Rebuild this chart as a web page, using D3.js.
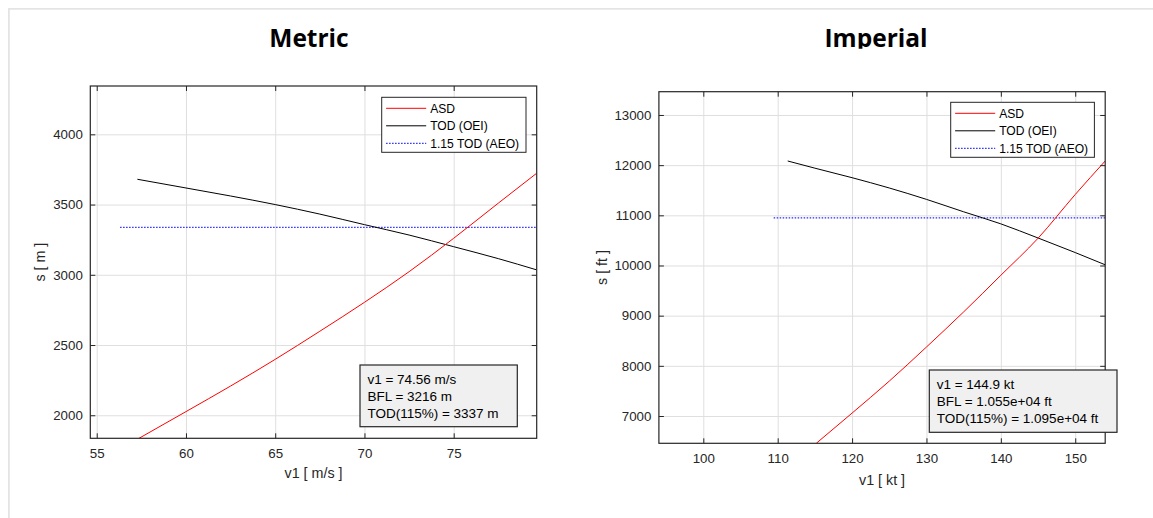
<!DOCTYPE html>
<html><head><meta charset="utf-8">
<script src="https://cdn.jsdelivr.net/npm/d3@7"></script>
<style>body{margin:0;background:#fff;overflow:hidden}</style>
</head><body><svg id="c" width="1153" height="518"></svg>
<script>
// ---------- Metric panel data ----------
const metricTodV1 = [57.28, 60, 62.5, 65, 67.5, 70, 72.5, 75, 77.5, 79.65];
const metricTod   = [3680, 3618, 3561, 3500, 3432, 3357, 3283, 3200, 3115, 3035];
const metricAsdV1 = [57.37, 60, 62.5, 65, 67.5, 70, 72.5, 75, 77.5, 79.65];
const metricAsd   = [1836, 2026, 2208, 2398, 2598, 2804, 3022, 3260, 3510, 3723];
const metricTod115V1 = [56.31, 79.65];
const metricTod115   = [3337, 3337];
const metricXTicks = [55, 60, 65, 70, 75];
const metricYTicks = [2000, 2500, 3000, 3500, 4000];
const metricInfo = ["v1 = 74.56 m/s", "BFL = 3216 m", "TOD(115%) = 3337 m"];

// ---------- Imperial panel data ----------
const imperialTodV1 = [111.35, 115, 120, 125, 130, 135, 140, 145, 150, 154.03];
const imperialTod   = [12083, 11940, 11750, 11545, 11318, 11070, 10830, 10548, 10258, 10014];
const imperialAsdV1 = [115.19, 120, 125, 130, 135, 140, 145, 150, 154.03];
const imperialAsd   = [6456, 7058, 7695, 8375, 9075, 9805, 10543, 11415, 12083];
const imperialTod115V1 = [109.46, 154.03];
const imperialTod115   = [10950, 10950];
const imperialXTicks = [100, 110, 120, 130, 140, 150];
const imperialYTicks = [7000, 8000, 9000, 10000, 11000, 12000, 13000];
const imperialInfo = ["v1 = 144.9 kt", "BFL = 1.055e+04 ft", "TOD(115%) = 1.095e+04 ft"];

const legendLabels = ["ASD", "TOD (OEI)", "1.15 TOD (AEO)"];
const titles = ["Metric", "Imperial"];
const xLabels = ["v1 [ m/s ]", "v1 [ kt ]"];
const yLabels = ["s [ m ]", "s [ ft ]"];

const svg = d3.select("#c");
svg.append("rect").attr("width", 1153).attr("height", 518).attr("fill", "#fff");
// page frame
svg.append("line").attr("x1", 8).attr("x2", 1153).attr("y1", 8.9).attr("y2", 8.9)
  .attr("stroke", "#e4e4e4").attr("stroke-width", 1.8);
svg.append("line").attr("x1", 8.9).attr("x2", 8.9).attr("y1", 8).attr("y2", 518)
  .attr("stroke", "#e4e4e4").attr("stroke-width", 1.8);

const AX = "#262626", GRID = "#dfdfdf";
const FONT = "'Liberation Sans', Arial, sans-serif";
const BLUE = "#2a2aff", DOT = "1.5,1.5";

const panels = [
  { id: "m", title: titles[0], titleX: 309, left: 90.3, right: 536.7, top: 86, bottom: 438.3,
    xd: [54.64, 79.65], yd: [1836, 4344], xt: metricXTicks, yt: metricYTicks,
    tod: [metricTodV1, metricTod], asd: [metricAsdV1, metricAsd], t115: [metricTod115V1, metricTod115],
    info: metricInfo, xl: xLabels[0], yl: yLabels[0], ylOff: 50, xlOff: 35,
    leg: { x: 381.7, y: 97.3, w: 144.3, h: 55 },
    box: { x: 360, y: 365, w: 157.3, h: 61.7 } },
  { id: "i", title: titles[1], titleX: 876, left: 658.9, right: 1105.2, top: 91.7, bottom: 443.3,
    xd: [94.03, 154.03], yd: [6456, 13464], xt: imperialXTicks, yt: imperialYTicks,
    tod: [imperialTodV1, imperialTod], asd: [imperialAsdV1, imperialAsd], t115: [imperialTod115V1, imperialTod115],
    info: imperialInfo, xl: xLabels[1], yl: yLabels[1], ylOff: 57, xlOff: 36.7,
    leg: { x: 950.7, y: 102.3, w: 143.7, h: 55 },
    box: { x: 929.3, y: 370, w: 187.7, h: 62.3 } }
];

// title clip (descenders are cut in the reference)
const defs = svg.append("defs");
defs.append("clipPath").attr("id", "titleclip").append("rect")
  .attr("x", 0).attr("y", 0).attr("width", 1153).attr("height", 48.7);

panels.forEach(p => {
  const W = p.right - p.left, H = p.bottom - p.top;
  const x = d3.scaleLinear().domain(p.xd).range([0, W]);
  const y = d3.scaleLinear().domain(p.yd).range([H, 0]);

  svg.append("text").attr("x", p.titleX).attr("y", 46.7).attr("text-anchor", "middle")
    .attr("clip-path", "url(#titleclip)")
    .style("font-family", "'Open Sans', sans-serif").style("font-weight", 700)
    .style("font-size", "24.5px").attr("fill", "#000").text(p.title);

  const g = svg.append("g").attr("transform", `translate(${p.left},${p.top})`);
  defs.append("clipPath").attr("id", "clip" + p.id).append("rect")
    .attr("width", W).attr("height", H);

  g.append("rect").attr("width", W).attr("height", H).attr("fill", "#fff");

  // grid
  const gx = g.append("g").attr("transform", `translate(0,${H})`)
    .call(d3.axisBottom(x).tickValues(p.xt).tickSize(-H).tickFormat(""));
  const gy = g.append("g").call(d3.axisLeft(y).tickValues(p.yt).tickSize(-W).tickFormat(""));
  [gx, gy].forEach(a => { a.select(".domain").remove(); a.selectAll("line").attr("stroke", GRID).attr("stroke-width", 1); });

  // data
  const line = d3.line().x(d => x(d[0])).y(d => y(d[1])).curve(d3.curveMonotoneX);
  const zip = (a) => a[0].map((v, i) => [v, a[1][i]]);
  const dg = g.append("g").attr("clip-path", `url(#clip${p.id})`);
  dg.append("path").datum(zip(p.t115)).attr("d", line).attr("fill", "none")
    .attr("stroke", BLUE).attr("stroke-width", 1.3).attr("stroke-dasharray", DOT);
  dg.append("path").datum(zip(p.tod)).attr("d", line).attr("fill", "none")
    .attr("stroke", "#000").attr("stroke-width", 1);
  dg.append("path").datum(zip(p.asd)).attr("d", line).attr("fill", "none")
    .attr("stroke", "#ff0000").attr("stroke-width", 1);

  // axes with inward ticks
  const tk = 5;
  const styleAxis = a => {
    a.select(".domain").remove();
    a.selectAll("line").attr("stroke", AX).attr("stroke-width", 1);
    a.selectAll("text").attr("fill", AX).style("font-family", FONT).style("font-size", "13.3px");
  };
  const ab = g.append("g").attr("transform", `translate(0,${H})`)
    .call(d3.axisBottom(x).tickValues(p.xt).tickSize(-tk).tickPadding(10.5).tickFormat(d3.format("d")));
  styleAxis(ab);
  const at = g.append("g").call(d3.axisTop(x).tickValues(p.xt).tickSize(-tk).tickFormat(""));
  styleAxis(at);
  const al = g.append("g").call(d3.axisLeft(y).tickValues(p.yt).tickSize(-tk).tickPadding(7.5).tickFormat(d3.format("d")));
  styleAxis(al);
  const ar = g.append("g").attr("transform", `translate(${W},0)`)
    .call(d3.axisRight(y).tickValues(p.yt).tickSize(-tk).tickFormat(""));
  styleAxis(ar);

  g.append("rect").attr("width", W).attr("height", H).attr("fill", "none")
    .attr("stroke", AX).attr("stroke-width", 1.2);

  // axis labels
  g.append("text").attr("x", W / 2).attr("y", H + p.xlOff).attr("dy", "0.35em")
    .attr("text-anchor", "middle").attr("fill", AX)
    .style("font-family", FONT).style("font-size", "14.3px").text(p.xl);
  g.append("text").attr("transform", `translate(${-p.ylOff},${H / 2}) rotate(-90)`)
    .attr("dy", "0.35em").attr("text-anchor", "middle").attr("fill", AX)
    .style("font-family", FONT).style("font-size", "14.3px").text(p.yl);

  // legend
  const L = p.leg;
  const lg = svg.append("g").attr("transform", `translate(${L.x},${L.y})`);
  lg.append("rect").attr("width", L.w).attr("height", L.h).attr("fill", "#fff")
    .attr("stroke", AX).attr("stroke-width", 1);
  const legStyles = [
    { c: "#ff0000", d: null, w: 1 }, { c: "#000", d: null, w: 1 }, { c: BLUE, d: DOT, w: 1.3 }
  ];
  legendLabels.forEach((lab, i) => {
    const yy = 11 + i * 17.5;
    lg.append("line").attr("x1", 4.4).attr("x2", 44.5).attr("y1", yy).attr("y2", yy)
      .attr("stroke", legStyles[i].c).attr("stroke-width", legStyles[i].w)
      .attr("stroke-dasharray", legStyles[i].d);
    lg.append("text").attr("x", 48.5).attr("y", yy).attr("dy", "0.35em").attr("fill", "#000")
      .style("font-family", FONT).style("font-size", "12.1px").text(lab);
  });

  // info box
  const B = p.box;
  const bg = svg.append("g").attr("transform", `translate(${B.x},${B.y})`);
  bg.append("rect").attr("width", B.w).attr("height", B.h).attr("fill", "#f0f0f0")
    .attr("stroke", AX).attr("stroke-width", 1.2);
  p.info.forEach((t, i) => {
    bg.append("text").attr("x", 7.4).attr("y", 14.3 + i * 16.9).attr("dy", "0.35em")
      .attr("fill", "#000").style("font-family", FONT).style("font-size", "13.5px").text(t);
  });
});
</script>
</body></html>
